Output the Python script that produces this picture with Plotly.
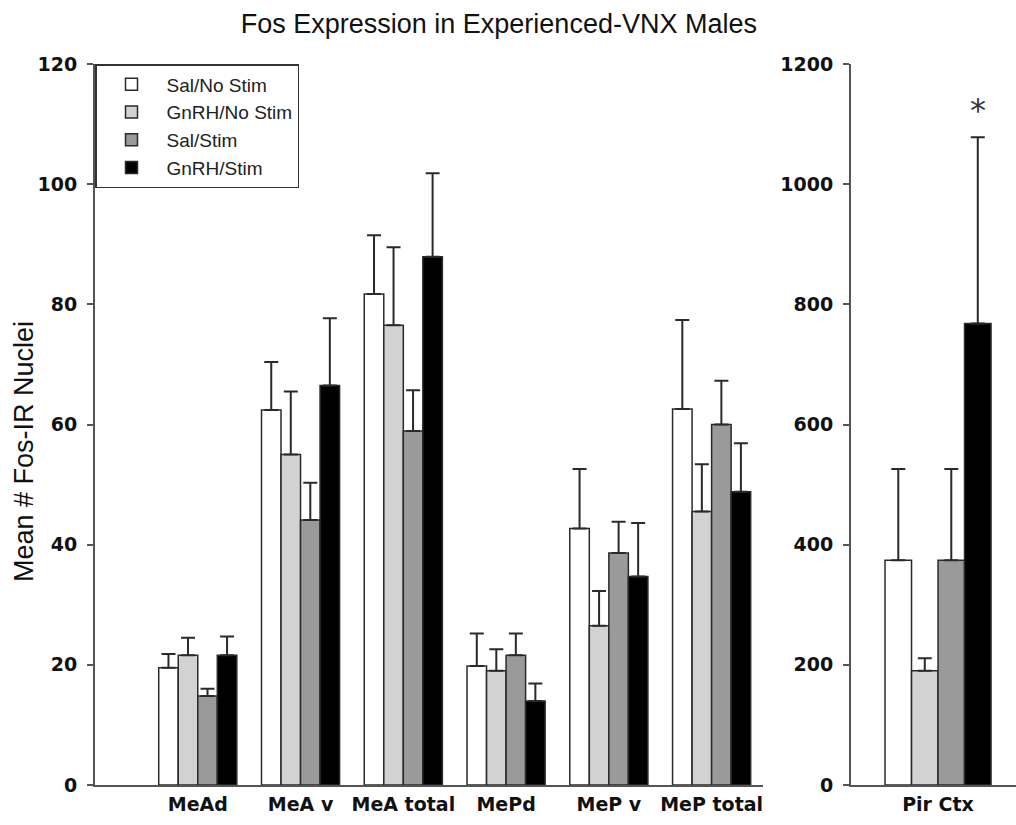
import plotly.graph_objects as go

# ---- data ----
categories = ["MeAd", "MeA v", "MeA total", "MePd", "MeP v", "MeP total"]
groups = ["Sal/No Stim", "GnRH/No Stim", "Sal/Stim", "GnRH/Stim"]

sal_nostim = [19.5, 62.4, 81.7, 19.8, 42.7, 62.6]
sal_nostim_err = [2.3, 8.0, 9.8, 5.4, 9.9, 14.8]
gnrh_nostim = [21.6, 55.0, 76.5, 19.0, 26.5, 45.5]
gnrh_nostim_err = [2.9, 10.5, 13.0, 3.6, 5.8, 7.9]
sal_stim = [14.8, 44.1, 58.9, 21.6, 38.6, 60.0]
sal_stim_err = [1.2, 6.2, 6.8, 3.6, 5.2, 7.3]
gnrh_stim = [21.6, 66.5, 87.9, 14.0, 34.7, 48.8]
gnrh_stim_err = [3.1, 11.2, 13.9, 2.9, 8.9, 8.1]

pir_category = ["Pir Ctx"]
pir_means = [374, 190, 374, 768]
pir_err = [152, 21, 152, 310]

left_ticks = [0, 20, 40, 60, 80, 100, 120]
right_ticks = [0, 200, 400, 600, 800, 1000, 1200]

colors = ["#ffffff", "#d2d2d2", "#9a9a9a", "#000000"]
outline = "#2a2a2a"
axis_col = "#555555"

left_means = [sal_nostim, gnrh_nostim, sal_stim, gnrh_stim]
left_errs = [sal_nostim_err, gnrh_nostim_err, sal_stim_err, gnrh_stim_err]

fig = go.Figure()

for i, name in enumerate(groups):
    fig.add_trace(go.Bar(
        x=categories, y=left_means[i], name=name,
        marker=dict(color=colors[i], line=dict(color=outline, width=1.5)),
        error_y=dict(type="data", array=left_errs[i], arrayminus=[0] * len(categories),
                     symmetric=False, color=outline, thickness=2, width=7),
        xaxis="x", yaxis="y", showlegend=True,
    ))

for i, name in enumerate(groups):
    fig.add_trace(go.Bar(
        x=pir_category, y=[pir_means[i]], name=name,
        marker=dict(color=colors[i], line=dict(color=outline, width=1.5)),
        error_y=dict(type="data", array=[pir_err[i]], arrayminus=[0],
                     symmetric=False, color=outline, thickness=2, width=7),
        xaxis="x2", yaxis="y2", showlegend=False,
    ))

W, H = 1016, 825
tickfont = dict(family="DejaVu Sans", size=19, color="#111111", weight="bold")

fig.update_layout(
    width=W, height=H,
    margin=dict(l=0, r=0, t=64, b=40),
    paper_bgcolor="white", plot_bgcolor="white",
    barmode="group", bargap=0.24, bargroupgap=0,
    title=dict(text="Fos Expression in Experienced-VNX Males",
               x=0.491, xanchor="center", y=1 - 24 / H, yanchor="middle",
               font=dict(family="Liberation Sans", size=27, color="#111111")),
    xaxis=dict(domain=[95 / W, 763 / W], range=[-1, 5.5], type="category",
               showline=True, linecolor=axis_col, linewidth=2, ticks="",
               showgrid=False, zeroline=False, tickfont=tickfont,
               ticklabelstandoff=1, anchor="y"),
    yaxis=dict(range=[0, 120], tickvals=left_ticks, showline=True, linecolor=axis_col,
               linewidth=2, ticks="outside", ticklen=6, tickwidth=2, tickcolor=axis_col,
               showgrid=False, zeroline=False, tickfont=tickfont, ticklabelstandoff=6,
               anchor="x"),
    xaxis2=dict(domain=[851 / W, 1.0], range=[-0.624, 0.559], type="category",
                showline=True, linecolor=axis_col, linewidth=2, ticks="",
                showgrid=False, zeroline=False, tickfont=tickfont,
                ticklabelstandoff=1, anchor="y2"),
    yaxis2=dict(range=[0, 1200], tickvals=right_ticks, showline=True, linecolor=axis_col,
                linewidth=2, ticks="outside", ticklen=6, tickwidth=2, tickcolor=axis_col,
                showgrid=False, zeroline=False, tickfont=tickfont, ticklabelstandoff=6,
                anchor="x2"),
    legend=dict(x=95 / W, xanchor="left", y=1, yanchor="top",
                bordercolor="#333333", borderwidth=1.5, bgcolor="white",
                font=dict(family="Liberation Sans", size=19, color="#222222"),
                itemwidth=60, tracegroupgap=0),
    annotations=[
        dict(text="Mean # Fos-IR Nuclei", textangle=-90, xref="paper", yref="paper",
             x=24 / W, y=(785 - 452) / 721, xanchor="center", yanchor="middle",
             showarrow=False,
             font=dict(family="Liberation Sans", size=27, color="#111111")),
        dict(text="*", xref="x2", yref="y2", x="Pir Ctx", y=pir_means[3] + pir_err[3],
             xshift=40, yshift=6, yanchor="bottom", xanchor="center", showarrow=False,
             font=dict(family="DejaVu Sans", size=32, color="#333333")),
    ],
)

fig.write_html("out.html")
